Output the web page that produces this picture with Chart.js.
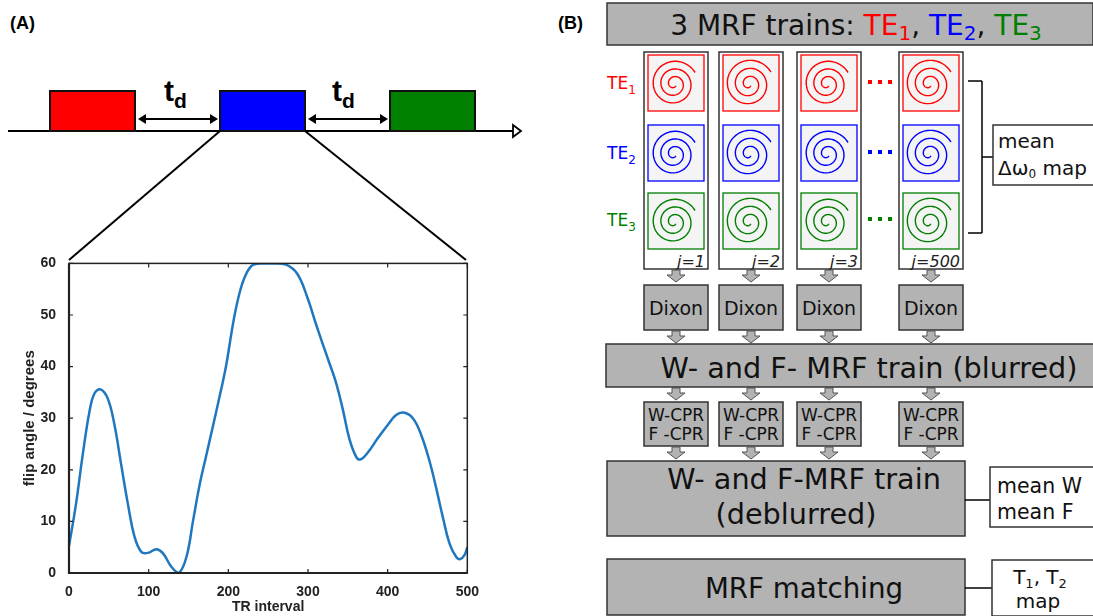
<!DOCTYPE html>
<html>
<head>
<meta charset="utf-8">
<script src="https://cdn.jsdelivr.net/npm/chart.js@4"></script>
<style>
  body { margin: 0; background: #fff; }
  #page { position: relative; width: 1093px; height: 616px; overflow: hidden; }
  #plot { position: absolute; left: 0; top: 250px; width: 482px; height: 366px; }
  #diagram { position: absolute; left: 0; top: 0; }
</style>
</head>
<body>
<div id="page">
  <svg id="diagram" width="1093" height="616"></svg>
  <div id="plot"><canvas id="grafico"></canvas></div>
</div>
<script>
// flip angle schedule
var trInterval = [0, 8.8, 17.2, 25.6, 31.9, 39.5, 48.7, 57.1, 65.5, 73.9,
  82.3, 90.7, 99.1, 109.6, 118, 128.5, 137.7, 147.4, 155.8, 164.1,
  172.5, 181, 189.3, 197, 206.7, 215, 223.5, 232, 245, 258,
  272, 286.5, 299, 309.7, 318, 326.6, 335, 343.4, 351.8, 360.2,
  365.6, 374.9, 387.5, 400.1, 410.6, 419.8, 431.6, 442, 452.5, 460.9,
  469.3, 477.7, 486.1, 491.2, 496.6, 500];
var flipAngle = [5.2, 13.4, 22.9, 31.2, 34.8, 35.6, 33.8, 28.7, 21.0, 13.4,
  7.0, 4.1, 3.9, 4.6, 3.8, 1.2, 0, 3.1, 10.2, 17.2,
  22.9, 28.7, 34.4, 40, 49, 54.8, 58.3, 59.8, 60, 60,
  59.8, 58, 53.5, 48.4, 44.6, 40.8, 37, 31.9, 26.1, 22.6,
  22.0, 23.3, 26.1, 28.7, 30.6, 31.1, 30.0, 26.8, 21.7, 16.5,
  10.8, 5.7, 3.1, 2.7, 3.5, 5.0];
var xTicks = [0, 100, 200, 300, 400, 500];
var yTicks = [0, 10, 20, 30, 40, 50, 60];

var columnLabels = ["j=1", "j=2", "j=3", "j=500"];
var teLabels = ["1", "2", "3"];
var teColors = ["#ff0000", "#0000ff", "#007f00"];

// ---------- diagram (panel A top + panel B) ----------
var svg = document.getElementById("diagram");
var s = "";
var GRAY = "#b3b3b3";
function rect(x, y, w, h, fill, stroke, sw) {
  s += '<rect x="' + x + '" y="' + y + '" width="' + w + '" height="' + h + '" fill="' + fill +
    '" stroke="' + (stroke || "#222") + '" stroke-width="' + (sw || 1.5) + '"/>';
}
function line(x1, y1, x2, y2, w, c) {
  s += '<line x1="' + x1 + '" y1="' + y1 + '" x2="' + x2 + '" y2="' + y2 + '" stroke="' + (c || "#000") +
    '" stroke-width="' + (w || 1.5) + '"/>';
}
function text(x, y, str, size, opts) {
  opts = opts || {};
  s += '<text x="' + x + '" y="' + y + '" font-family="' + (opts.family || "DejaVu Sans") + '" font-size="' + size +
    '" fill="' + (opts.color || "#111") + '" text-anchor="' + (opts.anchor || "start") + '"' +
    (opts.weight ? ' font-weight="' + opts.weight + '"' : "") +
    (opts.italic ? ' font-style="italic"' : "") + '>' + str + '</text>';
}
function downArrow(cx, y) {
  s += '<path d="M' + (cx - 4) + ' ' + y + ' h8 v5 h5 l-9 7 l-9 -7 h5 z" fill="' + GRAY + '" stroke="#555" stroke-width="1"/>';
}
function spiral(cx, cy, rmax, color) {
  var turns = 2.8, n = 200, d = "";
  var tmax = turns * 2 * Math.PI;
  for (var i = 0; i <= n; i++) {
    var t = tmax * i / n;
    var r = 2.5 + (rmax - 2.5) * t / tmax;
    var a = t - tmax - 0.5;
    var x = cx + r * Math.cos(a), y = cy + r * Math.sin(a);
    d += (i ? "L" : "M") + x.toFixed(2) + " " + y.toFixed(2);
  }
  s += '<path d="' + d + '" fill="none" stroke="' + color + '" stroke-width="1.4"/>';
}

// panel labels
text(10, 29, "(A)", 18, { family: "Liberation Sans", weight: "bold", color: "#000" });
text(558, 29, "(B)", 18, { family: "Liberation Sans", weight: "bold", color: "#000" });

// timeline
line(8, 131, 513, 131, 2);
s += '<path d="M513 125 L521 131 L513 137 Z" fill="#fff" stroke="#000" stroke-width="1.8"/>';
rect(50, 91, 85, 40, "#ff0000", "#111", 2);
rect(220, 91, 85, 40, "#0000ff", "#111", 2);
rect(390, 91, 85, 40, "#007f00", "#111", 2);
function dblArrow(x1, x2, y) {
  line(x1 + 6, y, x2 - 6, y, 2);
  s += '<path d="M' + x1 + ' ' + y + ' l8 -5 v10 z" fill="#000"/>';
  s += '<path d="M' + x2 + ' ' + y + ' l-8 -5 v10 z" fill="#000"/>';
}
dblArrow(138, 218, 119);
dblArrow(308, 388, 119);
[164, 332].forEach(function (x) {
  s += '<text x="' + x + '" y="101" font-family="Liberation Sans" font-weight="bold" font-size="30" fill="#000">t' +
    '<tspan font-size="21" dy="7">d</tspan></text>';
});
// zoom lines into the plot
line(220, 131, 69, 260, 2);
line(305, 131, 466, 260, 2);

// panel B header
rect(607, 3, 486, 42, GRAY, "#333", 1.5);
s += '<text x="856" y="35" font-family="DejaVu Sans" font-size="28" fill="#111" text-anchor="middle">3 MRF trains: ' +
  '<tspan fill="#ff0000">TE<tspan font-size="20" dy="5">1</tspan></tspan><tspan dy="-5">, </tspan>' +
  '<tspan fill="#0000ff">TE<tspan font-size="20" dy="5">2</tspan></tspan><tspan dy="-5">, </tspan>' +
  '<tspan fill="#007f00">TE<tspan font-size="20" dy="5">3</tspan></tspan></text>';

// TE columns
var colX = [644, 719, 797, 899];
var rowY = [55, 125, 193];
var rowMid = [85, 155, 222];
for (var r = 0; r < 3; r++) {
  s += '<text x="607" y="' + (rowMid[r] + 4) + '" font-family="DejaVu Sans" font-size="17" fill="' + teColors[r] + '">TE' +
    '<tspan font-size="12" dy="5">' + teLabels[r] + '</tspan></text>';
  for (var k = 0; k < 3; k++) {
    s += '<rect x="' + (868 + k * 10) + '" y="' + (rowMid[r] - 5) + '" width="4" height="4" fill="' + teColors[r] + '"/>';
  }
}
colX.forEach(function (x, i) {
  rect(x, 52, 64, 217, "#fff", "#333", 1.5);
  for (var r = 0; r < 3; r++) {
    rect(x + 4, rowY[r], 56, 56, "#f4f4f4", teColors[r], 1.3);
    spiral(x + 30, rowY[r] + 29, 24 + (i % 2), teColors[r]);
  }
  text(x + 61, 267, columnLabels[i], 16, { anchor: "end", italic: true, color: "#222" });
  downArrow(x + 32, 270);
  rect(x, 285, 64, 45, GRAY, "#333", 1.5);
  text(x + 32, 315, "Dixon", 19, { anchor: "middle" });
  downArrow(x + 32, 331);
  downArrow(x + 32, 388);
  rect(x, 402, 64, 44, GRAY, "#333", 1.5);
  text(x + 32, 421, "W-CPR", 17, { anchor: "middle" });
  text(x + 32, 440, "F -CPR", 17, { anchor: "middle" });
  downArrow(x + 32, 447);
});

// bracket -> mean map
line(968, 81, 982, 81, 1.5);
line(982, 81, 982, 233, 1.5);
line(968, 233, 982, 233, 1.5);
line(982, 157, 993, 157, 1.5);
rect(993, 125, 102, 60, "#fff", "#333", 1.5);
text(998, 148, "mean", 20);
s += '<text x="998" y="175" font-family="DejaVu Sans" font-size="20" fill="#111">Δω<tspan font-size="12" dy="3">0</tspan><tspan dy="-3"> map</tspan></text>';

// blurred train
rect(606, 344, 490, 43, GRAY, "#333", 1.5);
text(869, 378, "W- and F- MRF train (blurred)", 28.7, { anchor: "middle" });

// deblurred train
rect(607, 461, 358, 75, GRAY, "#333", 1.5);
text(804, 489, "W- and F-MRF train", 28.7, { anchor: "middle" });
text(796, 524, "(deblurred)", 28.7, { anchor: "middle" });
line(965, 500, 990, 500, 1.5);
rect(990, 467, 105, 60, "#fff", "#333", 1.5);
text(997, 493, "mean W", 20.5);
text(997, 519, "mean F", 20.5);

// matching
rect(607, 559, 358, 56, GRAY, "#333", 1.5);
text(804, 598, "MRF matching", 27.7, { anchor: "middle" });
line(965, 588, 992, 588, 1.5);
rect(992, 560, 103, 56, "#fff", "#333", 1.5);
s += '<text x="1040" y="584" font-family="DejaVu Sans" font-size="20" fill="#111" text-anchor="middle">T<tspan font-size="13" dy="4">1</tspan><tspan dy="-4">, T</tspan><tspan font-size="13" dy="4">2</tspan></text>';
text(1038, 608, "map", 20, { anchor: "middle" });

svg.innerHTML = s;

// ---------- flip angle plot ----------
var puntos = trInterval.map(function (x, i) { return { x: x, y: flipAngle[i] }; });

var marco = {
  id: "marco",
  afterDraw: function (chart) {
    var ctx = chart.ctx, a = chart.chartArea;
    var sx = chart.scales.x, sy = chart.scales.y;
    ctx.save();
    ctx.strokeStyle = "#222";
    ctx.lineWidth = 1.5;
    ctx.strokeRect(a.left, a.top, a.right - a.left, a.bottom - a.top);
    ctx.lineWidth = 2.2;
    ctx.beginPath();
    ctx.moveTo(a.left, a.top); ctx.lineTo(a.left, a.bottom); ctx.lineTo(a.right, a.bottom);
    ctx.stroke();
    ctx.lineWidth = 1.2;
    ctx.beginPath();
    xTicks.forEach(function (v) {
      var p = sx.getPixelForValue(v);
      ctx.moveTo(p, a.bottom); ctx.lineTo(p, a.bottom - 4);
      ctx.moveTo(p, a.top); ctx.lineTo(p, a.top + 4);
    });
    yTicks.forEach(function (v) {
      var p = sy.getPixelForValue(v);
      ctx.moveTo(a.left, p); ctx.lineTo(a.left + 4, p);
      ctx.moveTo(a.right, p); ctx.lineTo(a.right - 4, p);
    });
    ctx.stroke();
    ctx.restore();
  }
};

var tickFont = { family: "Liberation Sans", size: 14, weight: "bold" };
new Chart(document.getElementById("grafico").getContext("2d"), {
  type: "line",
  data: {
    datasets: [{
      data: puntos,
      borderColor: "#1f77c0",
      borderWidth: 2.5,
      pointRadius: 0,
      tension: 0.4,
      fill: false
    }]
  },
  options: {
    responsive: true,
    maintainAspectRatio: false,
    animation: false,
    layout: { padding: { left: 0, right: 14, top: 10, bottom: 0 } },
    plugins: { legend: { display: false }, tooltip: { enabled: false } },
    scales: {
      x: {
        type: "linear",
        min: 0,
        max: 500,
        afterBuildTicks: function (scale) { scale.ticks = xTicks.map(function (v) { return { value: v }; }); },
        afterFit: function (scale) { scale.height = 43; },
        grid: { display: false },
        border: { display: false },
        ticks: { color: "#222", font: tickFont, padding: 3, maxRotation: 0 },
        title: { display: true, text: "TR interval", color: "#222", padding: { top: 0, bottom: 0 },
          font: { family: "Liberation Sans", size: 14, weight: "bold" } }
      },
      y: {
        min: 0,
        max: 60,
        afterBuildTicks: function (scale) { scale.ticks = yTicks.map(function (v) { return { value: v }; }); },
        afterFit: function (scale) { scale.width = 69; },
        grid: { display: false },
        border: { display: false },
        ticks: { color: "#222", font: tickFont, padding: 5 },
        title: { display: true, text: "flip angle / degrees", color: "#222", padding: { top: 21, bottom: 0 },
          font: { family: "Liberation Sans", size: 15, weight: "bold" } }
      }
    }
  },
  plugins: [marco]
});
</script>
</body>
</html>
